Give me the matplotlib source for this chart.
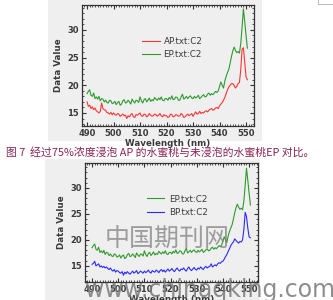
import numpy as np
import matplotlib
matplotlib.use("Agg")
import matplotlib.pyplot as plt
from matplotlib.patches import Rectangle
from matplotlib.ticker import MultipleLocator

plt.rcParams['font.family'] = ['DejaVu Sans']

wavelength = np.arange(490, 551, 0.5)

ep = [18.5, 18.9, 19.2, 18.2, 18.0, 18.6, 17.6, 17.9, 17.5, 18.0,
      17.2, 17.6, 17.5, 17.0, 17.3, 16.9, 16.8, 17.3, 17.2, 16.7,
      16.8, 17.1, 16.5, 16.9, 17.1, 16.4, 16.6, 17.2, 17.4, 16.8,
      16.9, 17.3, 17.0, 16.6, 17.5, 17.1, 16.8, 17.3, 17.2, 16.9,
      17.9, 17.2, 16.8, 17.4, 17.6, 17.0, 17.3, 17.7, 17.1, 17.4,
      17.2, 17.8, 17.5, 17.3, 17.7, 17.4, 17.9, 17.3, 17.2, 17.6,
      17.6, 17.3, 17.8, 17.5, 18.1, 17.4, 17.5, 17.9, 17.8, 17.3,
      17.3, 17.9, 18.4, 17.5, 17.7, 18.0, 17.6, 17.9, 18.1, 17.7,
      17.6, 18.0, 17.7, 17.9, 18.2, 17.6, 17.8, 18.1, 18.3, 17.9,
      18.0, 18.4, 18.6, 18.2, 18.5, 18.3, 18.6, 18.9, 18.7, 19.0,
      19.8, 20.6, 20.0, 19.5, 20.8, 21.6, 22.3, 22.9, 24.0, 25.2,
      26.2, 26.9, 26.3, 25.9, 26.1, 25.8, 27.5, 30.5, 33.8, 31.5,
      29.0, 26.7]

ap = [17.0, 16.2, 16.4, 15.8, 16.1, 15.6, 15.9, 15.4, 15.2, 15.0,
      15.3, 16.8, 15.8, 15.6, 15.5, 15.1, 15.0, 14.8, 15.1, 14.7,
      15.0, 14.7, 14.6, 14.9, 14.8, 14.4, 14.6, 14.8, 14.5, 14.6,
      14.0, 14.5, 14.3, 14.7, 14.9, 14.3, 14.2, 14.7, 14.6, 14.8,
      15.0, 14.5, 14.4, 14.8, 14.7, 14.3, 14.5, 14.9, 14.6, 14.4,
      14.5, 14.8, 14.7, 14.4, 14.6, 14.9, 14.5, 14.3, 14.7, 14.5,
      14.5, 14.2, 14.3, 14.8, 14.7, 14.3, 14.4, 14.7, 14.6, 14.4,
      14.5, 14.9, 14.7, 14.2, 14.3, 14.6, 14.8, 14.5, 14.7, 14.9,
      14.4, 14.8, 15.2, 14.8, 14.9, 15.3, 14.9, 15.1, 15.0, 15.3,
      15.4, 15.2, 15.5, 15.7, 15.8, 15.5, 15.6, 15.9, 16.0, 15.8,
      16.3, 16.6, 16.9, 17.3, 17.8, 18.5, 19.2, 19.7, 20.0, 20.3,
      20.3, 20.0, 19.5, 19.8, 20.3, 20.5, 22.8, 26.5, 26.8, 24.2,
      21.5, 21.0]

bp = [15.3, 15.5, 15.9, 15.0, 15.2, 15.4, 14.8, 15.0, 14.7, 14.9,
      14.6, 14.8, 14.5, 14.3, 14.6, 14.2, 14.0, 14.3, 13.8, 14.1,
      14.0, 13.7, 13.6, 13.9, 13.2, 13.8, 13.5, 13.9, 13.6, 13.4,
      13.7, 14.0, 13.6, 13.8, 14.1, 13.5, 13.7, 14.0, 13.8, 13.6,
      14.0, 13.7, 13.9, 14.2, 13.8, 13.6, 14.1, 13.9, 13.8, 14.2,
      14.0, 13.7, 14.1, 14.3, 13.9, 14.2, 13.8, 14.1, 14.4, 14.0,
      14.2, 14.5, 14.1, 13.9, 14.3, 14.6, 14.2, 14.0, 14.4, 14.3,
      14.6, 14.2, 14.0, 14.5, 14.8, 14.3, 14.1, 14.4, 14.7, 14.3,
      14.2, 14.6, 14.4, 14.8, 14.5, 14.3, 14.7, 14.9, 14.6, 14.8,
      14.9, 15.4, 14.8, 15.0, 15.2, 15.0, 15.4, 15.6, 15.5, 15.8,
      15.9, 16.3, 16.8, 17.2, 17.8, 18.3, 18.9, 19.3, 19.6, 20.2,
      19.9, 19.6, 19.4, 19.7, 19.6, 20.0, 22.0, 25.3, 24.5, 22.3,
      20.6, 20.4]

top_labels = ["AP.txt:C2", "EP.txt:C2"]
bottom_labels = ["EP.txt:C2", "BP.txt:C2"]
caption = "图 7  经过75%浓度浸泡 AP 的水蜜桃与未浸泡的水蜜桃EP 对比。"

W, H = 333, 300
fig = plt.figure(figsize=(W / 100, H / 100), dpi=100)
fig.patch.set_facecolor('white')

panel_col = '#efefef'
# gray panels
fig.add_artist(Rectangle((48 / W, 1 - 141 / H), (262 - 48) / W, 141 / H,
                         transform=fig.transFigure, facecolor=panel_col, edgecolor='none', zorder=0))
fig.add_artist(Rectangle((45 / W, 0), (260 - 45) / W, (300 - 159) / H,
                         transform=fig.transFigure, facecolor=panel_col, edgecolor='none', zorder=0))
# small box top-right
fig.add_artist(Rectangle((318 / W, 1 - 4 / H), 20 / W, 10 / H,
                         transform=fig.transFigure, facecolor='none', edgecolor='#b0b0b0',
                         linewidth=0.6, zorder=0))

txt_col = '#3a3a3a'


def style_axes(ax, xlim, ylim):
    ax.set_facecolor(panel_col)
    ax.set_xlim(*xlim)
    ax.set_ylim(*ylim)
    ax.xaxis.set_major_locator(MultipleLocator(10))
    ax.xaxis.set_minor_locator(MultipleLocator(1))
    ax.yaxis.set_major_locator(MultipleLocator(5))
    ax.yaxis.set_minor_locator(MultipleLocator(1))
    ax.tick_params(which='both', direction='in', top=True, right=True, colors='#333333',
                   labelsize=6, pad=2, labelcolor=txt_col)
    ax.tick_params(which='major', length=3, width=0.8)
    ax.tick_params(which='minor', length=1.5, width=0.6)
    for lab in ax.get_xticklabels() + ax.get_yticklabels():
        lab.set_fontweight('bold')
    for s in ax.spines.values():
        s.set_color('#333333')
        s.set_linewidth(0.9)
    ax.set_xlabel("Wavelength (nm)", fontsize=6.3, fontweight='bold', color=txt_col, labelpad=1)
    ax.set_ylabel("Data Value", fontsize=6.3, fontweight='bold', color=txt_col, labelpad=3)


# top chart
ax1 = fig.add_axes([82 / W, (300 - 126) / H, (254 - 82) / W, (126 - 5) / H])
ax1.plot(wavelength, ap, color='#ff3333', lw=0.8, label=top_labels[0])
ax1.plot(wavelength, ep, color='#2e9a2e', lw=0.8, label=top_labels[1])
style_axes(ax1, (488.1, 553.0), (12.65, 34.5))
ax1.legend(loc='upper left', bbox_to_anchor=(0.349, 0.735), frameon=False, fontsize=6.3,
           handlelength=2.1, handletextpad=0.35, borderpad=0, borderaxespad=0,
           labelspacing=0.5, labelcolor=txt_col)

# bottom chart
ax2 = fig.add_axes([85 / W, (300 - 282) / H, (258 - 85) / W, (282 - 163) / H])
ax2.plot(wavelength, ep, color='#2e9a2e', lw=0.8, label=bottom_labels[0])
ax2.plot(wavelength, bp, color='#2a2aff', lw=0.8, label=bottom_labels[1])
style_axes(ax2, (487.3, 553.4), (11.9, 34.8))
ax2.legend(loc='upper left', bbox_to_anchor=(0.358, 0.735), frameon=False, fontsize=6.3,
           handlelength=2.0, handletextpad=0.5, borderpad=0, borderaxespad=0,
           labelspacing=0.5, labelcolor=txt_col)

# caption
fig.text(6 / W, 1 - 152 / H, caption, fontsize=7.8, color='#8b2257', va='center', ha='left',
         family=['Noto Sans CJK SC', 'DejaVu Sans'])

# watermark
fig.text(105 / W, 1 - 240 / H, "中国期刊网", fontsize=18, color='#808080', alpha=0.75,
         va='center', ha='left', family=['Noto Sans CJK SC', 'DejaVu Sans'], zorder=10)
fig.text(85 / W, 1 - 297 / H, "www.chinaqking.com", fontsize=17, color='#7a7a7a', alpha=0.85,
         va='baseline', ha='left', zorder=10)

fig.savefig("out.png", dpi=100, facecolor='white')
